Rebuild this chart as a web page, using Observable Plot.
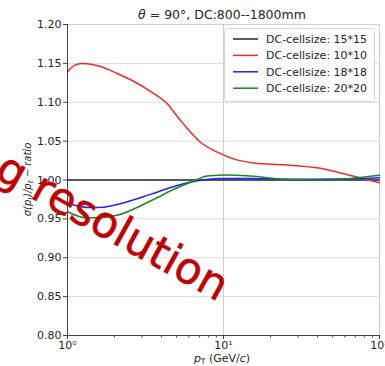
<!DOCTYPE html>
<html><head><meta charset="utf-8">
<script src="https://cdn.jsdelivr.net/npm/d3@7"></script>
<script src="https://cdn.jsdelivr.net/npm/@observablehq/plot@0.6"></script>
<style>body{margin:0;background:#fff;overflow:hidden}</style>
</head><body><div id="chart"></div>
<script>
// ---- data ----
const seriesNames = ["DC-cellsize: 15*15", "DC-cellsize: 10*10", "DC-cellsize: 18*18", "DC-cellsize: 20*20"];
const seriesColors = ["#262626", "#f22a2a", "#1f1fff", "#1a8a1a"];

const xBlack = [1, 100];
const yBlack = [1.000, 1.000];

const xRed = [1, 1.1, 1.24, 1.63, 2.08, 2.65, 3.4, 4.36, 5.3, 7.12, 9.12, 11.6, 15.6, 24.4, 39.8, 65.2, 100];
const yRed = [1.139, 1.147, 1.150, 1.146, 1.137, 1.127, 1.114, 1.098, 1.0765, 1.0486, 1.0358, 1.0272, 1.022, 1.0195, 1.0157, 1.0058, 0.9964];

const xBlue = [1, 1.2, 1.4, 1.7, 2.08, 3.4, 5.05, 7.12, 9.12, 15, 25, 40, 65, 100];
const yBlue = [0.970, 0.966, 0.9645, 0.965, 0.9685, 0.9815, 0.993, 0.9996, 1.002, 1.002, 1.001, 1.001, 1.0015, 1.003];

const xGreen = [1, 1.15, 1.3, 1.5, 2.08, 3.4, 5.05, 6.45, 7.86, 10.6, 14.9, 24.4, 39.8, 65.2, 100];
const yGreen = [0.9595, 0.954, 0.9515, 0.9515, 0.9547, 0.973, 0.990, 0.9987, 1.005, 1.0065, 1.005, 1.001, 0.9996, 1.002, 1.006];

const yTicks = [0.80, 0.85, 0.90, 0.95, 1.00, 1.05, 1.10, 1.15, 1.20];
const xMajorTicks = [1, 10, 100];
const xMajorLabels = ["10⁰", "10¹", "10²"];
const xMinorTicks = [2, 3, 4, 5, 6, 7, 8, 9, 20, 30, 40, 50, 60, 70, 80, 90];

const titleMain = " = 90°, DC:800--1800mm";
const watermark = "g resolution";

// ---- build ----
const toRows = (xs, ys, s) => xs.map((x, i) => ({x, y: ys[i], s}));
const rows = [
  ...toRows(xBlack, yBlack, seriesNames[0]),
  ...toRows(xRed, yRed, seriesNames[1]),
  ...toRows(xBlue, yBlue, seriesNames[2]),
  ...toRows(xGreen, yGreen, seriesNames[3])
];

const W = 385, H = 366;
const mL = 67, mR = 6, mT = 24, mB = 31;

const chart = Plot.plot({
  width: W, height: H,
  marginLeft: mL, marginRight: mR, marginTop: mT, marginBottom: mB,
  style: {fontFamily: "DejaVu Sans", fontSize: "11px", background: "#fff", color: "#262626", overflow: "visible"},
  x: {type: "log", domain: [1, 100]},
  y: {domain: [0.80, 1.20]},
  color: {domain: seriesNames, range: seriesColors},
  marks: [
    Plot.gridX(xMajorTicks, {stroke: "#cfcfcf", strokeOpacity: 1}),
    Plot.gridY(yTicks, {stroke: "#dcdcdc", strokeOpacity: 1}),
    Plot.frame({stroke: "#cfcfcf"}),
    ...seriesNames.map((name, i) => Plot.line(rows.filter(r => r.s === name), {
      x: "x", y: "y", stroke: "s", strokeWidth: 1.5, curve: "monotone-x"
    })),
    Plot.ruleX([1], {stroke: "#444", strokeWidth: 1}),
    Plot.ruleY([0.80], {stroke: "#444", strokeWidth: 1}),
    Plot.axisY(yTicks, {tickSize: 4, tickPadding: 2, tickFormat: d => d.toFixed(2), label: null, fontSize: 11, stroke: "#444"}),
    Plot.axisX(xMajorTicks, {tickSize: 4, tickPadding: 2, tickFormat: (d, i) => xMajorLabels[xMajorTicks.indexOf(d)], label: null, fontSize: 11, stroke: "#444"}),
    Plot.axisX(xMinorTicks, {tickSize: 2.5, tickFormat: () => "", label: null, stroke: "#444"})
  ]
});
document.getElementById("chart").append(chart);

const svg = d3.select(chart);

// title
const t = svg.append("text").attr("x", 222).attr("y", 19).attr("text-anchor", "middle")
  .attr("font-size", 12.5).attr("fill", "#262626");
t.append("tspan").attr("font-style", "italic").text("θ");
t.append("tspan").text(titleMain);

// y label
const yl = svg.append("text").attr("transform", "translate(31,179.5) rotate(-90)")
  .attr("text-anchor", "middle").attr("font-size", 10).attr("fill", "#262626").attr("font-style", "italic");
yl.append("tspan").text("σ(p");
yl.append("tspan").attr("font-size", 7).attr("dy", 2).text("t");
yl.append("tspan").attr("dy", -2).text(")/p");
yl.append("tspan").attr("font-size", 7).attr("dy", 2).text("t");
yl.append("tspan").attr("dy", -2).text(" − ratio");

// x label
const xl = svg.append("text").attr("x", 222).attr("y", 362).attr("text-anchor", "middle")
  .attr("font-size", 11).attr("fill", "#262626");
xl.append("tspan").attr("font-style", "italic").text("p");
xl.append("tspan").attr("font-size", 7.5).attr("dy", 2).text("T");
xl.append("tspan").attr("dy", -2).text(" (GeV/");
xl.append("tspan").attr("font-style", "italic").text("c");
xl.append("tspan").text(")");

// legend
const lg = svg.append("g");
lg.append("rect").attr("x", 224.5).attr("y", 28.5).attr("width", 150).attr("height", 73)
  .attr("rx", 3).attr("fill", "#fff").attr("fill-opacity", 0.8).attr("stroke", "#d6d6d6");
seriesNames.forEach((name, i) => {
  const yy = 39 + i * 16.4;
  lg.append("line").attr("x1", 233).attr("x2", 258).attr("y1", yy).attr("y2", yy)
    .attr("stroke", seriesColors[i]).attr("stroke-width", 1.5);
  lg.append("text").attr("x", 266).attr("y", yy).attr("dy", "0.35em").attr("text-anchor", "start")
    .attr("font-size", 11).attr("fill", "#262626").text(name);
});

// watermark
svg.append("text").attr("transform", "translate(-7,177) rotate(29)").attr("text-anchor", "start")
  .attr("font-size", 43.5).attr("fill", "#c00000").attr("stroke", "#c00000").attr("stroke-width", 0.6)
  .text(watermark);
</script>
</body></html>
